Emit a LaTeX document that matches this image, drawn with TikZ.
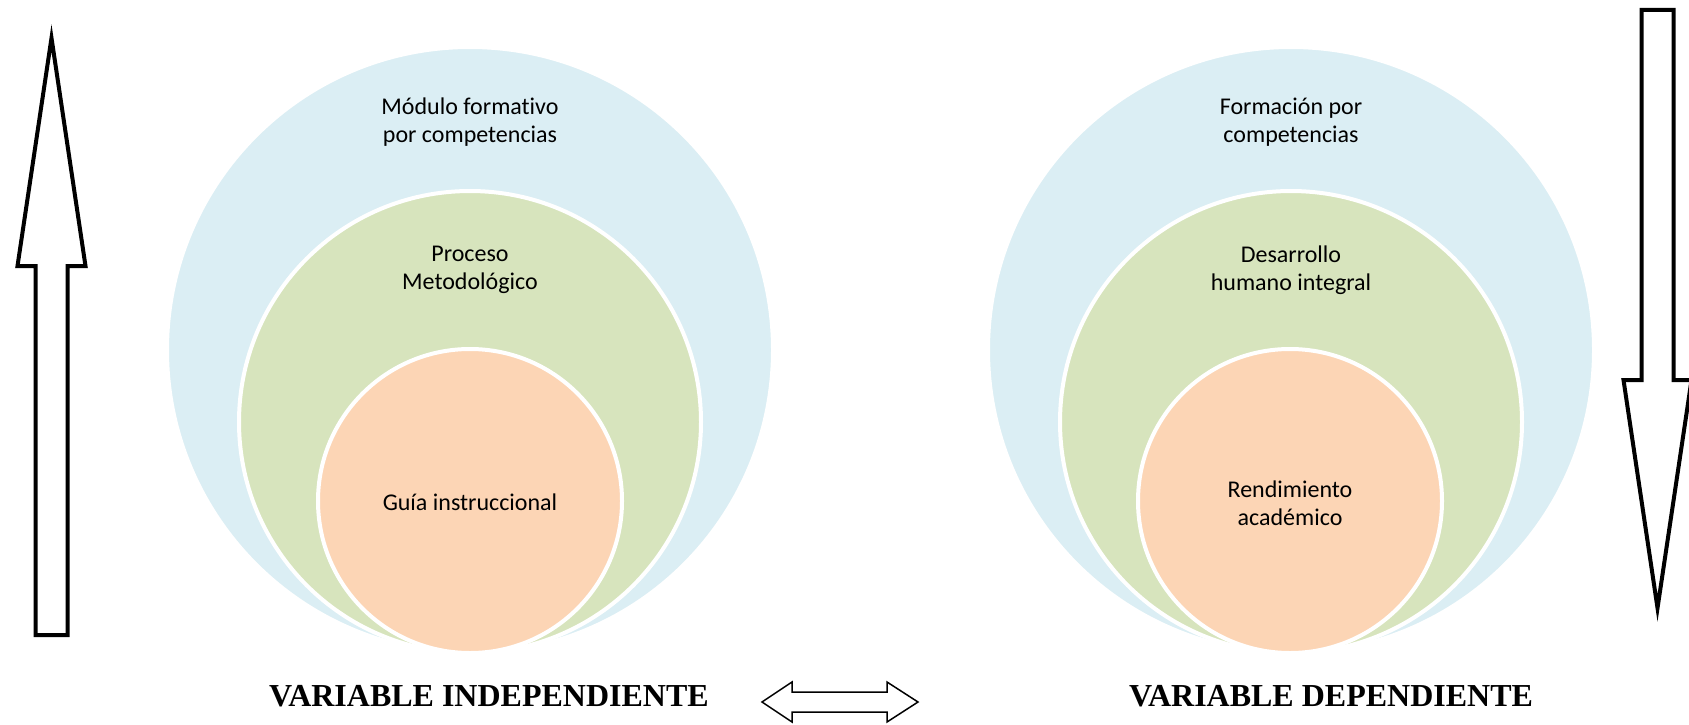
\documentclass[tikz,border=0pt]{standalone}
\usepackage{fontspec}
\setmainfont{Carlito}[Ligatures={NoCommon}]
\newfontfamily\varfont{Liberation Serif}
\definecolor{cblue}{HTML}{DBEEF4}
\definecolor{cgreen}{HTML}{D7E4BD}
\definecolor{corange}{HTML}{FCD5B5}
\begin{document}
\begin{tikzpicture}[x=1pt,y=-1pt,
  ring/.style={circle, draw=white, line width=4pt, inner sep=0pt},
  bluering/.style={ring, fill=cblue, minimum size=606pt},
  greenring/.style={ring, fill=cgreen, minimum size=462pt},
  orangering/.style={ring, fill=corange, minimum size=304pt},
  lbl/.style={align=center, inner sep=0pt, font=\fontsize{24}{27.5}\selectfont, text=black},
  varlbl/.style={inner sep=0pt, font=\varfont\bfseries\fontsize{32}{38}\selectfont},
  bigarrow/.style={draw=black, line width=4pt, fill=white, line join=miter},
  smallarrow/.style={draw=black, line width=1.5pt, fill=white, line join=miter},
]
\useasboundingbox (0,0) rectangle (1689,725);

% left nested circles
\node[bluering] (blueL) at (470,350) {};
\node[greenring] (greenL) at (470,422) {};
\node[orangering] (orangeL) at (470,501) {};
\node[lbl] (tModulo) at (470,122) {Módulo formativo\\por competencias};
\node[lbl] (tProceso) at (470,270) {Proceso\\Metodológico};
\node[lbl] (tGuia) at (470,502) {Guía instruccional};

% right nested circles
\node[bluering] (blueR) at (1291,350) {};
\node[greenring] (greenR) at (1291,422) {};
\node[orangering] (orangeR) at (1290,501) {};
\node[lbl] (tFormacion) at (1291,122) {Formación por\\competencias};
\node[lbl] (tDesarrollo) at (1291,270) {Desarrollo\\humano integral};
\node[lbl] (tRendimiento) at (1290,503) {Rendimiento\\académico};

% bottom labels
\node[varlbl] (vInd) at (489,696) {VARIABLE INDEPENDIENTE};
\node[varlbl] (vDep) at (1331,696) {VARIABLE DEPENDIENTE};

% left up arrow
\draw[bigarrow] (35.5,635) -- (35.5,266) -- (17.5,266) -- (51.5,38) -- (85.5,266)
  -- (67.5,266) -- (67.5,635) -- cycle;

% right down arrow
\draw[bigarrow] (1641.5,10) -- (1641.5,380) -- (1623.5,380) -- (1657.5,608) -- (1691.5,380)
  -- (1673.5,380) -- (1673.5,10) -- cycle;

% bottom double arrow
\draw[smallarrow] (762,702) -- (792,682) -- (792,692) -- (887,692) -- (887,682) -- (918,702)
  -- (887,722) -- (887,712) -- (792,712) -- (792,722) -- cycle;
\end{tikzpicture}
\end{document}
